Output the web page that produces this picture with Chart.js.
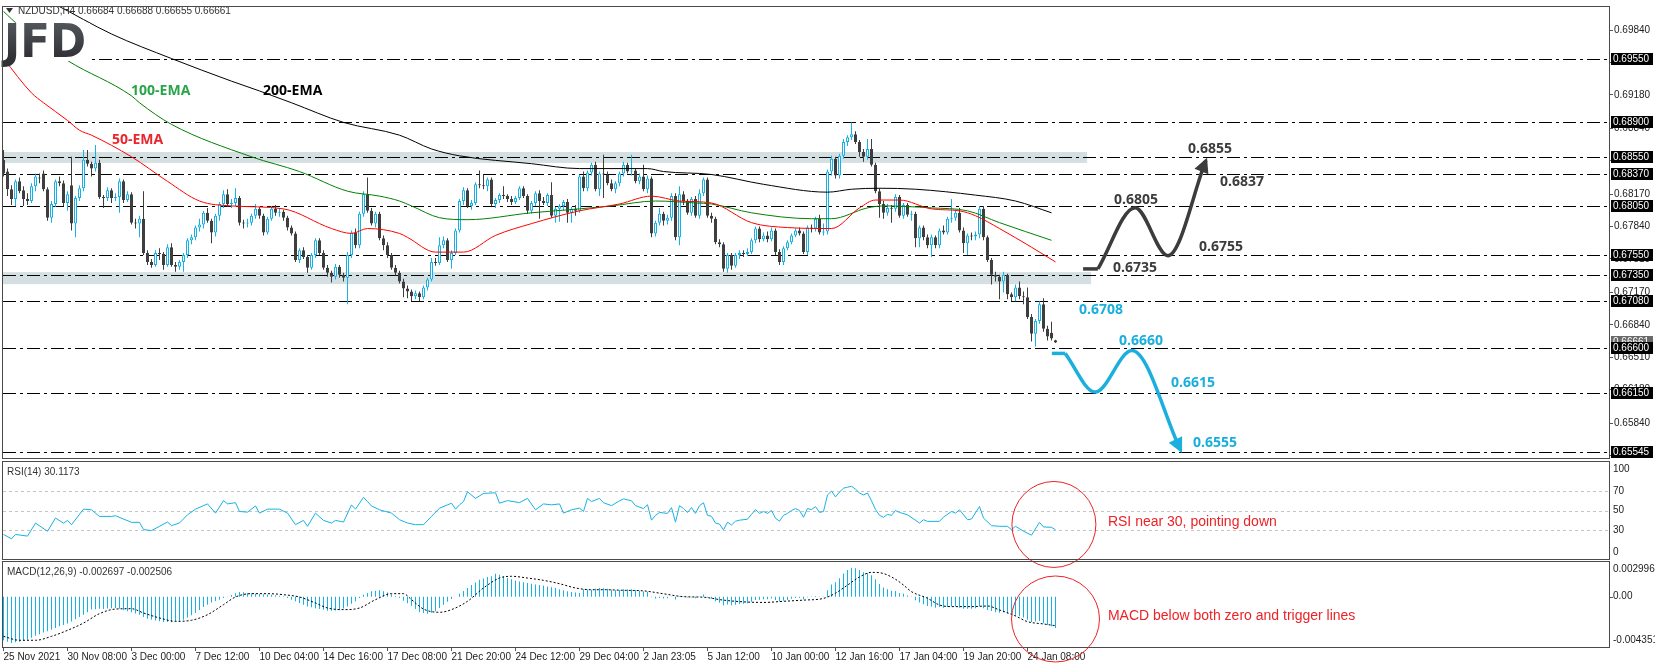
<!DOCTYPE html>
<html><head><meta charset="utf-8">
<script src="https://cdn.jsdelivr.net/npm/chart.js@4.4.0/dist/chart.umd.min.js"></script>
<style>
html,body{margin:0;padding:0;background:#fff;}
#wrap{position:relative;width:1655px;height:668px;overflow:hidden;background:#fff;}
#wrap canvas{position:absolute;left:0;top:0;}
</style></head><body>
<div id="wrap">
<canvas id="cMain" width="1655" height="668"></canvas>
<canvas id="cRsi" width="1655" height="668"></canvas>
<canvas id="cMacd" width="1655" height="668"></canvas>
</div>
<script>
// ---------------- DATA ----------------
const chartTitle = 'NZDUSD,H4 0.66684 0.66688 0.66655 0.66661';
const rsiTitle = 'RSI(14) 30.1173';
const macdTitle = 'MACD(12,26,9) -0.002697 -0.002506';

const xTickBars = [0,16,32,48,64,80,96,112,128,144,160,176,192,208,224,240,256];
const xTickLabels = ['25 Nov 2021','30 Nov 08:00','3 Dec 00:00','7 Dec 12:00','10 Dec 04:00','14 Dec 16:00','17 Dec 08:00','21 Dec 20:00','24 Dec 12:00','29 Dec 04:00','2 Jan 23:05','5 Jan 12:00','10 Jan 00:00','12 Jan 16:00','17 Jan 04:00','19 Jan 20:00','24 Jan 08:00'];

// H4 candles, prices in pips (price = value / 10000)
const O = [6852,6840,6822,6812,6830,6821,6812,6810,6825,6834,
6838,6822,6793,6807,6830,6828,6808,6826,6787,6813,
6823,6852,6848,6843,6849,6814,6813,6821,6813,6814,
6830,6811,6817,6788,6787,6792,6757,6748,6745,6757,
6756,6745,6763,6745,6743,6748,6755,6770,6773,6783,
6786,6798,6790,6778,6795,6807,6817,6807,6808,6813,
6788,6787,6788,6795,6802,6795,6778,6792,6802,6798,
6799,6793,6783,6777,6750,6760,6753,6742,6755,6770,
6757,6742,6737,6733,6743,6735,6732,6755,6778,6765,
6797,6817,6800,6787,6797,6772,6765,6755,6742,6737,
6728,6721,6718,6713,6716,6712,6722,6730,6748,6747,
6765,6770,6750,6757,6780,6810,6821,6805,6808,6827,
6826,6825,6832,6807,6811,6816,6815,6812,6809,6813,
6823,6815,6800,6808,6818,6810,6808,6816,6795,6802,
6805,6809,6798,6802,6800,6835,6823,6839,6847,6822,
6838,6837,6828,6822,6828,6838,6847,6840,6841,6830,
6835,6822,6833,6777,6788,6797,6790,6793,6815,6773,
6817,6810,6798,6812,6795,6818,6832,6795,6792,6768,
6766,6741,6755,6744,6755,6757,6756,6758,6770,6782,
6771,6775,6771,6780,6758,6748,6762,6768,6775,6780,
6777,6758,6783,6782,6792,6778,6779,6840,6853,6836,
6856,6870,6875,6878,6870,6860,6855,6863,6847,6820,
6807,6798,6803,6802,6814,6795,6806,6796,6797,6772,
6783,6773,6765,6773,6765,6780,6778,6792,6793,6798,
6780,6767,6775,6774,6776,6802,6773,6750,6735,6733,
6728,6735,6715,6712,6722,6713,6712,6692,6675,6688,
6705,6680,6676,6668.4];
const H = [6862,6843,6826,6832,6834,6825,6818,6828,6838,6838,
6841,6824,6810,6832,6835,6831,6820,6855,6815,6826,
6862,6862,6850,6867,6852,6816,6824,6823,6818,6833,
6832,6820,6819,6792,6795,6820,6760,6751,6760,6762,
6758,6766,6767,6748,6750,6757,6772,6776,6785,6792,
6800,6803,6792,6797,6809,6821,6822,6812,6823,6815,
6791,6792,6797,6807,6804,6797,6794,6805,6806,6803,
6801,6795,6785,6779,6762,6763,6755,6757,6772,6772,
6760,6745,6739,6746,6745,6737,6758,6780,6782,6799,
6820,6834,6803,6799,6799,6775,6768,6757,6745,6739,
6731,6724,6720,6719,6718,6724,6732,6752,6752,6773,
6774,6772,6760,6782,6812,6824,6823,6811,6829,6841,
6837,6834,6834,6813,6818,6825,6817,6815,6815,6825,
6825,6817,6810,6820,6821,6814,6818,6829,6804,6807,
6811,6812,6804,6806,6837,6840,6841,6849,6850,6840,
6857,6840,6832,6830,6840,6850,6849,6857,6843,6838,
6847,6836,6835,6790,6803,6799,6796,6818,6818,6825,
6820,6812,6814,6815,6822,6834,6834,6798,6794,6771,
6768,6757,6757,6757,6760,6760,6762,6772,6784,6784,
6778,6779,6783,6782,6761,6764,6770,6777,6782,6783,
6779,6785,6786,6794,6796,6787,6842,6856,6855,6858,
6873,6877,6890,6881,6872,6863,6873,6873,6849,6823,
6810,6807,6806,6817,6816,6808,6808,6800,6799,6785,
6785,6776,6776,6775,6782,6785,6794,6812,6800,6803,
6783,6777,6778,6779,6805,6805,6775,6752,6738,6735,
6738,6736,6717,6725,6728,6718,6722,6695,6690,6708,
6711,6683,6687,6668.8];
const L = [6835,6815,6806,6805,6818,6805,6806,6808,6820,6828,
6820,6790,6788,6804,6825,6805,6800,6780,6773,6810,
6820,6845,6835,6840,6812,6803,6810,6808,6810,6798,
6808,6809,6786,6782,6773,6755,6745,6742,6743,6750,
6740,6743,6743,6738,6740,6738,6752,6766,6770,6779,
6782,6788,6767,6774,6790,6803,6804,6803,6805,6785,
6782,6783,6785,6792,6792,6775,6776,6790,6795,6794,
6790,6780,6775,6748,6747,6751,6737,6740,6752,6755,
6740,6733,6727,6730,6732,6728,6705,6752,6762,6762,
6794,6798,6785,6783,6770,6760,6752,6740,6734,6726,
6712,6711,6708,6710,6708,6710,6719,6728,6744,6745,
6762,6748,6741,6755,6778,6806,6803,6801,6806,6823,
6822,6820,6805,6803,6808,6812,6809,6806,6807,6811,
6813,6797,6797,6805,6792,6806,6805,6793,6788,6789,
6800,6788,6788,6795,6798,6820,6820,6836,6820,6815,
6813,6826,6820,6818,6825,6835,6838,6836,6828,6827,
6820,6818,6773,6774,6785,6785,6786,6790,6770,6765,
6806,6796,6795,6793,6792,6815,6793,6788,6766,6763,
6738,6737,6740,6742,6751,6753,6754,6756,6767,6768,
6769,6768,6769,6755,6745,6745,6760,6766,6773,6775,
6756,6755,6778,6779,6776,6775,6776,6836,6833,6833,
6853,6866,6872,6868,6855,6850,6852,6845,6818,6793,
6792,6795,6788,6799,6793,6792,6794,6790,6763,6763,
6770,6762,6753,6762,6762,6776,6776,6788,6790,6778,
6757,6755,6770,6770,6772,6770,6748,6725,6728,6710,
6717,6710,6708,6708,6710,6705,6690,6667,6662,6685,
6677,6668,6668,6665.5];
const C = [6838,6822,6812,6830,6820,6812,6810,6825,6835,6833,
6822,6793,6807,6830,6828,6808,6817,6787,6813,6823,
6852,6848,6843,6849,6814,6813,6821,6813,6814,6830,
6811,6817,6788,6787,6792,6757,6748,6745,6757,6756,
6745,6763,6745,6743,6748,6755,6770,6773,6783,6786,
6798,6790,6778,6795,6807,6817,6807,6808,6813,6788,
6787,6788,6795,6802,6795,6778,6792,6802,6798,6799,
6793,6783,6777,6750,6760,6753,6742,6755,6770,6757,
6742,6737,6733,6743,6735,6732,6755,6778,6765,6797,
6817,6800,6787,6797,6772,6765,6755,6742,6737,6728,
6721,6718,6713,6716,6712,6722,6730,6748,6747,6765,
6770,6750,6757,6780,6810,6821,6805,6808,6827,6826,
6825,6832,6807,6811,6816,6815,6812,6809,6813,6823,
6815,6800,6808,6818,6810,6808,6816,6795,6802,6805,
6809,6798,6802,6800,6835,6823,6839,6847,6822,6838,
6837,6828,6822,6828,6838,6847,6840,6841,6830,6835,
6822,6833,6777,6788,6797,6790,6793,6815,6773,6817,
6810,6798,6812,6795,6818,6832,6795,6792,6768,6766,
6741,6755,6744,6755,6757,6756,6758,6770,6782,6771,
6775,6771,6780,6758,6748,6762,6768,6775,6780,6777,
6758,6783,6782,6792,6778,6779,6840,6853,6836,6856,
6870,6875,6878,6870,6860,6855,6863,6847,6820,6807,
6798,6803,6802,6814,6795,6806,6796,6797,6772,6783,
6773,6765,6773,6765,6780,6778,6792,6793,6798,6780,
6767,6775,6774,6776,6802,6773,6750,6735,6733,6728,
6735,6715,6712,6722,6713,6712,6692,6675,6688,6705,
6680,6672,6670,6666.1];

// moving averages (bar index, pips)
const ema50Bars = [0,7,10,16,19,22,32,41,49,57,70,82,87,91,99,101,108,115,123,132,144,154,162,169,177,187,196,207,214,218,224,232,239,243,249,257,263];
const ema50 = [6955,6920,6910,6892,6882,6877,6855,6830,6810,6805,6802,6782,6777,6782,6777,6773,6758,6758,6775,6787,6800,6807,6815,6810,6808,6788,6783,6782,6803,6811,6811,6802,6800,6795,6782,6763,6748];
const ema100Bars = [0,4,16,32,34,42,62,74,86,94,99,102,109,116,132,144,152,163,173,177,187,202,207,216,220,232,241,249,262];
const ema100 = [7003,6988,6953,6917,6910,6888,6855,6840,6820,6815,6810,6805,6793,6791,6798,6802,6805,6810,6808,6807,6798,6792,6792,6803,6805,6803,6800,6788,6770];
const ema200Bars = [0,13,27,42,57,64,72,85,99,107,114,132,144,161,165,177,190,206,212,219,228,243,253,262];
const ema200 = [7036,7010,6980,6955,6932,6922,6910,6890,6877,6863,6856,6848,6843,6843,6840,6837,6827,6819,6822,6823,6822,6816,6810,6798];
const emaLabelText = ['50-EMA','100-EMA','200-EMA'];
const emaLabelBar = [27.1, 31.9, 64.9];
const emaLabelPip = [6871.8, 6922.2, 6922.2];

// price axis and horizontal levels
const priceTicks = [0.6984,0.6951,0.6918,0.6884,0.6851,0.6817,0.6784,0.6751,0.6717,0.6684,0.6651,0.6618,0.6584,0.6551];
const levelPrices = [0.6955,0.689,0.6855,0.6837,0.6805,0.6755,0.6735,0.6708,0.666,0.6615,0.65545];
const lastPrice = 0.66661;
const zoneLow = [0.68488, 0.67254];
const zoneHigh = [0.68599, 0.67376];
const zoneEndBar = [270.9, 271.9];

// scenario paths (bar index, pips)
const bullFlatX = [269.9, 273.6], bullFlatY = [6740.9, 6740.9];
const bullWaveX = [273.6, 282.9, 291.1, 300.6], bullWaveY = [6740.9, 6803.2, 6754.4, 6851.3];
const bearFlatX = [262.1, 265.4], bearFlatY = [6654.9, 6654.9];
const bearWaveX = [265.4, 272.9, 282.1, 294.3], bearWaveY = [6654.9, 6615.5, 6657.9, 6556.3];
const bullLabelText = ['0.6855','0.6837','0.6805','0.6755','0.6735'];
const bullLabelBar = [296.1, 304.1, 277.6, 298.9, 277.4];
const bullLabelPip = [6862.7, 6829.4, 6811.2, 6762.8, 6741.6];
const bearLabelText = ['0.6708','0.6660','0.6615','0.6555'];
const bearLabelBar = [268.9, 278.9, 291.9, 297.4];
const bearLabelPip = [6699.3, 6668.0, 6624.6, 6564.1];

// RSI(14)
const rsiBars = [0,2,3,6,8,11,13,15,16,17,20,22,24,27,28,32,34,35,37,39,41,42,44,46,48,51,53,55,56,58,59,61,63,64,66,69,71,73,75,76,78,80,82,83,85,87,88,90,91,92,94,97,99,101,103,105,107,109,111,112,113,114,115,116,118,120,123,124,126,129,131,133,135,137,139,140,142,144,145,146,147,149,150,152,154,155,157,158,160,161,162,163,164,166,167,168,169,170,171,172,173,174,175,176,177,178,179,180,181,182,183,184,186,187,188,189,190,191,192,193,194,195,196,197,198,199,200,201,202,203,204,205,206,207,208,209,210,211,212,213,214,215,216,217,218,219,220,221,222,223,224,226,229,230,231,234,235,237,238,239,241,242,244,245,247,249,251,252,253,255,257,259,260,262,263];
const rsiVals = [25.3,20.8,25.3,23.6,37,28.6,42.2,37,39.8,35.4,51.4,50.7,43.9,43.9,44.6,37.8,37.8,30.3,29.3,33.7,38.1,34.4,37.1,45.6,51.4,56.8,47.3,60.2,56.8,58.1,49,48.3,54.7,47.3,51.4,51.4,47.3,35.4,39.8,33.7,47.3,39.8,37.1,39.8,38.1,55.8,51.4,63.6,59.2,54.7,50.7,47.3,40.5,37.1,35.4,35.4,43.9,52.4,55.8,57.5,51.4,55.8,59.2,69.3,62.5,67.6,68.3,57.5,60.2,58.1,62.5,50.7,56.8,55.8,56.8,47.3,50.7,52.4,49,62.5,59.2,62.5,58,55,60,62,60,55,52,56,40,45,48,47,53,38,55,52,48,53,47,55,58,45,44,37,36,30,38,35,39,40,41,46,51,47,49,47,50,42,39,45,47,50,52,50,43,52,51,54,48,49,66,70,64,69,73,74,75,72,68,66,68,60,51,45,43,46,45,50,48,45.6,37.1,40.5,38.8,38.8,43.2,49,47.3,50.7,40.5,41.2,54.1,42.2,34.4,33.7,33.7,30.3,33.7,28.6,24.6,37.8,33,32.7,30.1];
const rsiLevels = [70, 50, 30];
const rsiTickVals = [100, 70, 50, 30, 0];

// MACD(12,26,9) in units of 0.0001
const macdHist = [-37.7,-39,-40,-39.5,-39,-38,-37.2,-35.5,-33.7,-32.5,
-31,-30,-28.5,-27,-25.5,-24.5,-23.3,-21.5,-19.5,-17.5,
-15.6,-13.5,-11.2,-10.8,-10.5,-10.7,-10.2,-10,-9.8,-10.5,
-11.5,-12.7,-13.5,-14.5,-15.6,-17.5,-19,-19.9,-20.5,-21.3,
-21.8,-22,-22.2,-21.5,-20.8,-19.9,-18,-16,-14.1,-11.5,
-9,-6.9,-5,-3.8,-2.6,-1.2,-0.3,1.5,3,4,
3.8,3.2,3,2.6,2.3,2,1.8,1.7,1.2,0.8,
0.3,-1.2,-2.6,-4,-5.5,-7,-8.4,-9.2,-10,-10.7,
-11.4,-12.1,-12.2,-12,-11.8,-10.2,-8.4,-6.2,-4,-1.2,
1.7,3.2,4.6,5.1,5.5,4.6,3.7,2,0.5,-1.2,
-3.5,-5.7,-7.8,-10.7,-13.5,-14.2,-14.7,-13.8,-12.7,-9.8,
-6.9,-4.5,-2,0,2.5,5,7.5,10,12.3,14.7,
15.8,17,17.6,19.9,19,17.5,16.1,15,14,13.2,
12.5,11.8,11.2,10.6,10,9.5,8.8,8.2,7.5,6.5,
5.5,4.6,4,3.5,3.2,6.5,6.2,6,6.8,7.5,
7.3,6.8,6,5.5,5.8,6.5,6.2,6.4,5.5,5.2,
4.5,4.3,-0.5,-1.5,-1.2,-1.6,-1.4,0.2,-2.5,0.3,
0.1,-0.8,-0.5,-1.4,0.2,1.8,-0.8,-1.9,-4,-5.2,
-7.5,-6.8,-7.5,-6.9,-6.4,-6.2,-5.8,-4.5,-2.9,-2.7,
-2.2,-2.3,-1.5,-2.8,-4.2,-3.6,-2.8,-1.9,-1.1,-0.9,
-2.2,-0.6,-0.2,0.6,-0.2,-0.3,5.5,10.5,12.5,16,
20,23,25,24.5,23,21,20.5,18.5,15,11,
8,6.5,5.2,5,3.2,2.5,1,0.2,-3,-5,
-6.5,-8,-8.5,-9.5,-9,-9.5,-9,-8.5,-8.5,-9.5,
-10.5,-10.5,-10.5,-10,-8.5,-10,-11.5,-12.5,-13.5,-14,
-13.5,-14.5,-15,-16.5,-17,-18,-20,-22,-21.5,-21,
-23,-24.5,-25.5,-27];
const sigBars = [0,4,8,12,16,20,24,28,32,35,39,43,47,51,55,58,62,66,70,74,78,81,85,89,93,97,100,102,105,109,112,116,120,124,127,131,135,139,143,147,150,155,160,165,170,175,180,185,190,195,200,205,208,211,214,217,220,223,225,227,231,234,237,242,246,249,253,256,260,263];
const sigVals = [-34.3,-37.7,-37.7,-34.3,-29.1,-22.8,-14.7,-10.7,-10.4,-14.1,-18.4,-21.3,-20.4,-15.6,-6.9,-0.3,2.6,2.6,1.7,-0.3,-5.5,-9.8,-11.2,-9.8,-2.6,2.6,2.6,-2.6,-10.7,-13.5,-11.2,-4,7.5,16.1,17.6,16.1,14.1,11.2,7.5,6,6,5.5,5,2.5,0,-0.5,-3,-4.5,-5,-4,-3,-1.5,3,10,17,21,20,15,10,4.3,-1.4,-7.2,-8.6,-8.6,-8.1,-11.5,-16.7,-21.6,-23.6,-25.1];
const macdMax = 29.96, macdMin = -43.51;
const macdTickVals = [29.96, 0, -43.51];
const macdTickText = ['0.002996', '0.00', '-0.004351'];

// notes
const rsiNote = 'RSI near 30, pointing down';
const macdNote = 'MACD below both zero and trigger lines';
const noteBar = 276.1, rsiNoteVal = 38.1, macdNoteVal = -16.7;
const rsiCircle = {bar: 262.6, val: 35.6};
const macdCircle = {bar: 263, val: -19.3};

// ---------------- LAYOUT / STYLE ----------------
const W = 1655, HH = 668, LEFT = 3, AXIS_W = 46;
const MAIN_TOP = 3, MAIN_BOTTOM = 458, RSI_TOP = 462, RSI_BOTTOM = 559, MACD_TOP = 562, MACD_BOTTOM = 647;
const X_MIN = -0.125, X_MAX = 401.375;
const Y_MIN = 0.654845, Y_MAX = 0.700746;
const CYAN = '#16b2e4', DARK = '#3e3e3e', SCN_DARK = '#3c3c3c', SCN_BLUE = '#1aafdd';
const ZONE = '#d4dfe2', FRAME = '#4a4a4a', NOTE_RED = '#ec2227';
const FONT_UI = '"Liberation Sans", Arial, sans-serif';
const FONT_B = '"Open Sans", "DejaVu Sans", sans-serif';
Chart.defaults.font.family = FONT_UI;

const toP = v => v / 10000;
const pts = (xs, ys, f) => xs.map((x, i) => ({x: x, y: f ? f(ys[i]) : ys[i]}));
const isBull = O.map((o, i) => C[i] > o);

function frame(chart) {
  const {ctx, chartArea: a} = chart;
  ctx.save();
  ctx.strokeStyle = FRAME; ctx.lineWidth = 1; ctx.setLineDash([]);
  ctx.strokeRect(a.left - 0.5, a.top - 0.5, a.right - a.left + 1, a.bottom - a.top + 1);
  ctx.restore();
}
function panelTitle(chart, text) {
  const {ctx, chartArea: a} = chart;
  ctx.save();
  ctx.font = '10px ' + FONT_UI; ctx.fillStyle = '#333'; ctx.textBaseline = 'middle'; ctx.textAlign = 'left';
  ctx.fillText(text, a.left + 4, a.top + 10);
  ctx.restore();
}
function sideLabels(chart, vals, texts, withTick) {
  const {ctx, chartArea: a, scales: {y}} = chart;
  ctx.save();
  ctx.font = '10px ' + FONT_UI; ctx.fillStyle = '#222'; ctx.textBaseline = 'middle'; ctx.textAlign = 'left';
  ctx.strokeStyle = '#555'; ctx.lineWidth = 1;
  vals.forEach((v, i) => {
    let yy = y.getPixelForValue(v);
    const clamped = Math.min(Math.max(yy, a.top + 7), a.bottom - 7);
    if (withTick && clamped === yy) {
      ctx.beginPath(); ctx.moveTo(a.right, Math.round(yy) + 0.5); ctx.lineTo(a.right + 4, Math.round(yy) + 0.5); ctx.stroke();
    }
    ctx.fillText(texts[i], a.right + 4, clamped);
  });
  ctx.restore();
}
function ellipseNote(chart, c, rx, ry, text, noteVal) {
  const {ctx, scales: {x, y}} = chart;
  ctx.save();
  ctx.strokeStyle = NOTE_RED; ctx.lineWidth = 1;
  ctx.beginPath();
  ctx.ellipse(x.getPixelForValue(c.bar), y.getPixelForValue(c.val), rx, ry, 0, 0, Math.PI * 2);
  ctx.stroke();
  ctx.font = '14px ' + FONT_UI; ctx.fillStyle = NOTE_RED; ctx.textBaseline = 'middle'; ctx.textAlign = 'left';
  ctx.fillText(text, x.getPixelForValue(noteBar), y.getPixelForValue(noteVal));
  ctx.restore();
}

// ---------------- MAIN PANEL ----------------
const mainDecor = {
  id: 'mainDecor',
  beforeDatasetsDraw(chart) {
    const {ctx, chartArea: a, scales: {x, y}} = chart;
    ctx.save();
    ctx.beginPath(); ctx.rect(a.left, a.top, a.right - a.left, a.bottom - a.top); ctx.clip();
    ctx.fillStyle = ZONE;
    zoneLow.forEach((lo, i) => {
      const yt = y.getPixelForValue(zoneHigh[i]), yb = y.getPixelForValue(lo);
      ctx.fillRect(a.left, yt, x.getPixelForValue(zoneEndBar[i]) - a.left, yb - yt);
    });
    ctx.strokeStyle = '#000'; ctx.lineWidth = 1; ctx.setLineDash([13, 4, 3, 4]);
    levelPrices.forEach(p => {
      const yy = Math.round(y.getPixelForValue(p)) + 0.5;
      ctx.beginPath(); ctx.moveTo(a.left, yy); ctx.lineTo(a.right, yy); ctx.stroke();
    });
    ctx.restore();
  },
  afterDatasetsDraw(chart) {
    const {ctx, chartArea: a, scales: {x, y}} = chart;
    ctx.save();
    // arrow heads
    chart.data.datasets.forEach((ds, i) => {
      if (!ds.arrowHead) return;
      const el = chart.getDatasetMeta(i).data;
      const e = el[el.length - 1], d = el[el.length - 2];
      let dx = e.x - (e.cp1x !== undefined ? e.cp1x : d.x), dy = e.y - (e.cp1y !== undefined ? e.cp1y : d.y);
      if (Math.hypot(dx, dy) < 0.5) { dx = e.x - d.x; dy = e.y - d.y; }
      const len = Math.hypot(dx, dy); dx /= len; dy /= len;
      const tx = e.x + dx * 3, ty = e.y + dy * 3, bx = e.x - dx * 12, by = e.y - dy * 12, hw = 7.5;
      ctx.fillStyle = ds.borderColor;
      ctx.beginPath(); ctx.moveTo(tx, ty); ctx.lineTo(bx - dy * hw, by + dx * hw); ctx.lineTo(bx + dy * hw, by - dx * hw); ctx.closePath(); ctx.fill();
    });
    // scenario labels
    ctx.font = '700 14px ' + FONT_B; ctx.textAlign = 'left'; ctx.textBaseline = 'middle';
    ctx.fillStyle = SCN_DARK;
    bullLabelText.forEach((t, i) => ctx.fillText(t, x.getPixelForValue(bullLabelBar[i]), y.getPixelForValue(toP(bullLabelPip[i]))));
    ctx.fillStyle = SCN_BLUE;
    bearLabelText.forEach((t, i) => ctx.fillText(t, x.getPixelForValue(bearLabelBar[i]), y.getPixelForValue(toP(bearLabelPip[i]))));
    // EMA labels
    const emaCols = ['#e8262d', '#2aa54a', '#000'];
    emaLabelText.forEach((t, i) => {
      ctx.fillStyle = emaCols[i];
      ctx.fillText(t, x.getPixelForValue(emaLabelBar[i]), y.getPixelForValue(toP(emaLabelPip[i])));
    });
    // logo
    ctx.fillStyle = '#fff';
    ctx.fillRect(a.left, a.top + 16, 87, 38);
    const g = ctx.createLinearGradient(0, 20, 0, 58);
    g.addColorStop(0, '#55585d'); g.addColorStop(1, '#2f3136');
    ctx.fillStyle = g;
    ctx.font = '700 47px "DejaVu Sans", sans-serif'; ctx.textBaseline = 'alphabetic';
    ctx.fillText('JFD', a.left + 1, 57, 82);
    // title
    ctx.fillStyle = '#333';
    ctx.beginPath(); ctx.moveTo(a.left + 3, 8); ctx.lineTo(a.left + 10, 8); ctx.lineTo(a.left + 6.5, 13); ctx.closePath(); ctx.fill();
    ctx.font = '10px ' + FONT_UI; ctx.textBaseline = 'middle';
    ctx.fillText(chartTitle, a.left + 15, 11);
    ctx.restore();
  },
  afterDraw(chart) {
    const {ctx, chartArea: a, scales: {y}} = chart;
    ctx.save();
    ctx.font = '10px ' + FONT_UI; ctx.textBaseline = 'middle'; ctx.textAlign = 'left';
    const box = (v, bg) => {
      const yy = Math.round(y.getPixelForValue(v));
      ctx.fillStyle = bg; ctx.fillRect(a.right + 2, yy - 6, 42, 12);
      ctx.fillStyle = '#fff'; ctx.fillText(v.toFixed(5), a.right + 4, yy + 0.5);
    };
    box(lastPrice, '#6a6a6a');
    levelPrices.forEach(p => box(p, '#000'));
    ctx.restore();
    frame(chart);
  }
};

const commonOpts = (pad) => ({
  responsive: false, animation: false, devicePixelRatio: 1, events: [],
  layout: {padding: pad},
  plugins: {legend: {display: false}, tooltip: {enabled: false}}
});

new Chart(document.getElementById('cMain'), {
  type: 'bar',
  data: {datasets: [
    {type: 'line', data: pts(bullWaveX, bullWaveY, toP), borderColor: SCN_DARK, borderWidth: 3.5, pointRadius: 0, cubicInterpolationMode: 'monotone', borderCapStyle: 'butt', arrowHead: true, order: 0},
    {type: 'line', data: pts(bullFlatX, bullFlatY, toP), borderColor: SCN_DARK, borderWidth: 3.5, pointRadius: 0, tension: 0, order: 0},
    {type: 'line', data: pts(bearWaveX, bearWaveY, toP), borderColor: SCN_BLUE, borderWidth: 3.5, pointRadius: 0, cubicInterpolationMode: 'monotone', borderCapStyle: 'butt', arrowHead: true, order: 0},
    {type: 'line', data: pts(bearFlatX, bearFlatY, toP), borderColor: SCN_BLUE, borderWidth: 3.5, pointRadius: 0, tension: 0, order: 0},
    {type: 'line', data: pts(ema50Bars, ema50, toP), borderColor: '#ff0000', borderWidth: 1, pointRadius: 0, cubicInterpolationMode: 'monotone', order: 1},
    {type: 'line', data: pts(ema100Bars, ema100, toP), borderColor: '#008000', borderWidth: 1, pointRadius: 0, cubicInterpolationMode: 'monotone', order: 1},
    {type: 'line', data: pts(ema200Bars, ema200, toP), borderColor: '#000000', borderWidth: 1, pointRadius: 0, cubicInterpolationMode: 'monotone', order: 1},
    {type: 'bar', data: O.map((o, i) => ({x: i, y: [toP(o), toP(C[i])]})),
      backgroundColor: isBull.map(b => b ? '#ffffff' : DARK), borderColor: isBull.map(b => b ? CYAN : DARK),
      borderWidth: 1, borderSkipped: false, barThickness: 3, minBarLength: 1, grouped: false, inflateAmount: 0, order: 2},
    {type: 'bar', data: O.map((o, i) => ({x: i, y: [toP(L[i]), toP(H[i])]})),
      backgroundColor: isBull.map(b => b ? CYAN : DARK), borderWidth: 0, barThickness: 1, grouped: false, inflateAmount: 0, order: 3}
  ]},
  options: Object.assign(commonOpts({left: LEFT, top: MAIN_TOP, right: 0, bottom: HH - MAIN_BOTTOM}), {
    scales: {
      x: {type: 'linear', display: false, min: X_MIN, max: X_MAX, offset: false},
      y: {type: 'linear', position: 'right', min: Y_MIN, max: Y_MAX,
        afterBuildTicks: s => { s.ticks = priceTicks.map(v => ({value: v})); },
        afterFit: s => { s.width = AXIS_W; },
        ticks: {autoSkip: false, padding: 1, color: '#222', font: {size: 10, family: FONT_UI}, callback: v => Number(v).toFixed(5)},
        grid: {drawOnChartArea: false, drawTicks: true, tickLength: 4, color: '#555'},
        border: {display: false}}
    }
  }),
  plugins: [mainDecor]
});

// ---------------- RSI PANEL ----------------
const rsiDecor = {
  id: 'rsiDecor',
  beforeDatasetsDraw(chart) {
    const {ctx, chartArea: a, scales: {y}} = chart;
    ctx.save();
    ctx.strokeStyle = '#c4c4c4'; ctx.lineWidth = 1; ctx.setLineDash([3, 3]);
    rsiLevels.forEach(v => {
      const yy = Math.round(y.getPixelForValue(v)) + 0.5;
      ctx.beginPath(); ctx.moveTo(a.left, yy); ctx.lineTo(a.right, yy); ctx.stroke();
    });
    ctx.restore();
  },
  afterDraw(chart) {
    panelTitle(chart, rsiTitle);
    sideLabels(chart, rsiTickVals, rsiTickVals.map(String), false);
    frame(chart);
    ellipseNote(chart, rsiCircle, 42, 43, rsiNote, rsiNoteVal);
  }
};
new Chart(document.getElementById('cRsi'), {
  type: 'line',
  data: {datasets: [{data: pts(rsiBars, rsiVals), borderColor: CYAN, borderWidth: 1, pointRadius: 0, tension: 0}]},
  options: Object.assign(commonOpts({left: LEFT, top: RSI_TOP, right: 0, bottom: HH - RSI_BOTTOM}), {
    scales: {
      x: {type: 'linear', display: false, min: X_MIN, max: X_MAX, offset: false},
      y: {type: 'linear', position: 'right', min: 0, max: 100, afterFit: s => { s.width = AXIS_W; },
        ticks: {display: false}, grid: {display: false}, border: {display: false}}
    }
  }),
  plugins: [rsiDecor]
});

// ---------------- MACD PANEL ----------------
const macdDecor = {
  id: 'macdDecor',
  afterDraw(chart) {
    panelTitle(chart, macdTitle);
    sideLabels(chart, macdTickVals, macdTickText, true);
    frame(chart);
    ellipseNote(chart, macdCircle, 44, 43, macdNote, macdNoteVal);
  }
};
new Chart(document.getElementById('cMacd'), {
  type: 'bar',
  data: {datasets: [
    {type: 'line', data: pts(sigBars, sigVals), borderColor: '#000', borderWidth: 1, borderDash: [2, 2], pointRadius: 0, cubicInterpolationMode: 'monotone', order: 0},
    {type: 'bar', data: macdHist.map((v, i) => ({x: i, y: v})), backgroundColor: CYAN, borderWidth: 0, barThickness: 1, grouped: false, inflateAmount: 0, order: 1}
  ]},
  options: Object.assign(commonOpts({left: LEFT, top: MACD_TOP, right: 0, bottom: 0}), {
    scales: {
      x: {type: 'linear', min: X_MIN, max: X_MAX, offset: false,
        afterBuildTicks: s => { s.ticks = xTickBars.map(v => ({value: v})); },
        afterFit: s => { s.height = HH - MACD_BOTTOM; },
        ticks: {autoSkip: false, maxRotation: 0, minRotation: 0, align: 'start', padding: 0, color: '#222',
          font: {size: 10, family: FONT_UI}, callback: (v, i) => xTickLabels[i]},
        grid: {drawOnChartArea: false, drawTicks: true, tickLength: 4, color: '#555', offset: false},
        border: {display: false}},
      y: {type: 'linear', position: 'right', min: macdMin, max: macdMax, afterFit: s => { s.width = AXIS_W; },
        ticks: {display: false}, grid: {display: false}, border: {display: false}}
    }
  }),
  plugins: [macdDecor]
});
</script>
</body></html>
